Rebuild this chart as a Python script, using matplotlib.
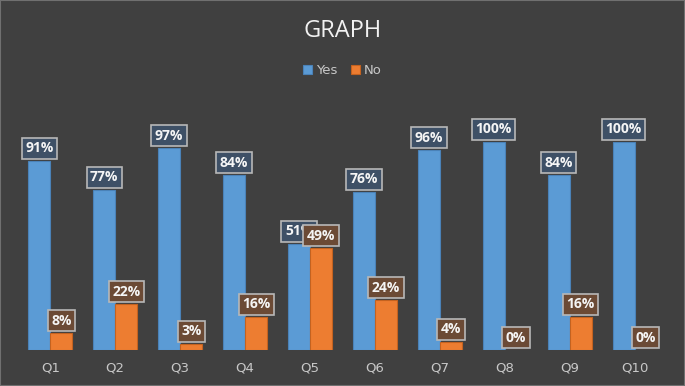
import matplotlib.pyplot as plt
import numpy as np
from matplotlib.patches import Rectangle

categories = ["Q1", "Q2", "Q3", "Q4", "Q5", "Q6", "Q7", "Q8", "Q9", "Q10"]
yes_values = [91, 77, 97, 84, 51, 76, 96, 100, 84, 100]
no_values = [8, 22, 3, 16, 49, 24, 4, 0, 16, 0]

bg = "#404040"
blue = "#5B9BD5"
orange = "#ED7D31"

fig = plt.figure(figsize=(6.85, 3.86), dpi=100, facecolor=bg)
ax = fig.add_axes([0.026, 0.093, 0.948, 0.539])
ax.set_facecolor(bg)

x = np.arange(len(categories))
w = 0.34
b1 = ax.bar(x - w / 2, yes_values, w, color=blue, edgecolor="#4a82b8", linewidth=0.8, label="Yes")
b2 = ax.bar(x + w / 2, no_values, w, color=orange, edgecolor="#c4621f", linewidth=0.8, label="No")

ax.set_xlim(-0.5, len(categories) - 0.5)
ax.set_ylim(0, 100)

def add_labels(bars, vals, face):
    for rect, v in zip(bars, vals):
        ax.annotate(f"{v}%", (rect.get_x() + rect.get_width() / 2, v),
                    xytext=(0, 4), textcoords="offset points",
                    ha="center", va="bottom", fontsize=10, fontweight="bold",
                    color="#f5f5f5", family="Open Sans", annotation_clip=False,
                    bbox=dict(boxstyle="square,pad=0.25", fc=face, ec="#b8b8b8", lw=1.2))

add_labels(b1, yes_values, "#3e5066")
add_labels(b2, no_values, "#6b4a35")

ax.set_xticks(x)
ax.set_xticklabels(categories, color="#c8c8c8", fontsize=9.5)
ax.tick_params(length=0, pad=8)
ax.set_yticks([])
for s in ax.spines.values():
    s.set_visible(False)

# thin light frame round the chart
fig.patches.append(Rectangle((0, 0), 1, 1, transform=fig.transFigure, fill=False,
                             ec="#707070", lw=1.5))

fig.text(0.5, 0.92, "GRAPH", ha="center", va="center", fontsize=17, color="#f2f2f2", family="Open Sans")
leg = fig.legend(loc="center", bbox_to_anchor=(0.5, 0.818), ncol=2, frameon=False,
                 fontsize=9.5, handlelength=0.7, handleheight=0.7, columnspacing=1.0,
                 handletextpad=0.3)
for t in leg.get_texts():
    t.set_color("#c8c8c8")

fig.savefig("out.png", dpi=100, facecolor=bg)
